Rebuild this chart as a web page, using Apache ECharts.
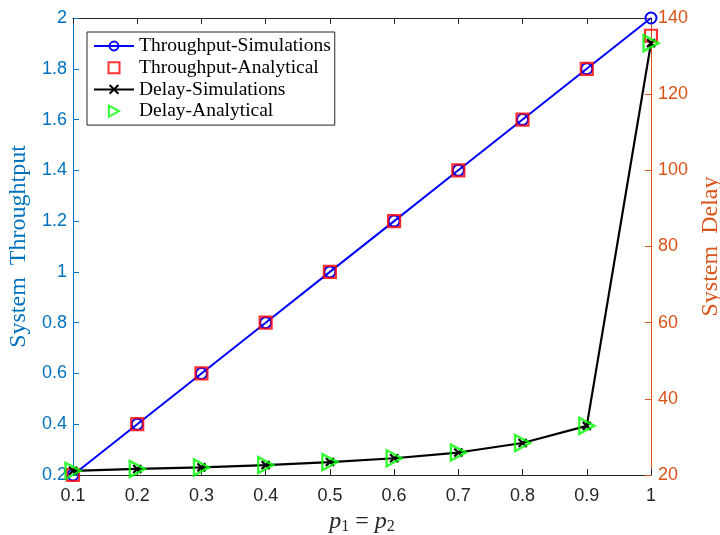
<!DOCTYPE html>
<html>
<head>
<meta charset="utf-8">
<script src="https://cdn.jsdelivr.net/npm/echarts@6/dist/echarts.min.js"></script>
<style>
  html, body { margin: 0; padding: 0; background: #fff; }
  #chart { width: 720px; height: 535px; }
</style>
</head>
<body>
<div id="chart"></div>
<script>
// Access probability p1 = p2
const pValues = [0.1, 0.2, 0.3, 0.4, 0.5, 0.6, 0.7, 0.8, 0.9, 1.0];

// System throughput
const throughputSim = [0.2, 0.4, 0.6, 0.8, 1.0, 1.2, 1.4, 1.6, 1.8, 2.0];
const throughputAna = [0.2, 0.4, 0.6, 0.8, 1.0, 1.2, 1.4, 1.6, 1.8, 1.93];

// System delay
const delaySim = [21.1, 21.6, 22.0, 22.6, 23.4, 24.4, 25.9, 28.4, 32.9, 133.4];
const delayAna = [21.1, 21.6, 22.0, 22.6, 23.4, 24.4, 25.9, 28.4, 32.9, 133.4];

const seriesNames = ['Throughput-Simulations', 'Throughput-Analytical', 'Delay-Simulations', 'Delay-Analytical'];

const pair = (xs, ys) => xs.map((x, i) => [x, ys[i]]);

const LEFT_COLOR = '#0072BD';
const RIGHT_COLOR = '#D95319';
const FRAME = '#262626';
const TICK_FONT = 'Liberation Sans, Arial, sans-serif';
const SERIF = 'Liberation Serif, DejaVu Serif, serif';

// marker shapes
const crossPath = 'path://M0,0L10,10M10,0L0,10';
const squarePath = 'path://M0,0L10,0L10,10L0,10Z';
const triRightPath = 'path://M0,0L14,7.5L0,15Z';

const chart = echarts.init(document.getElementById('chart'), null, { renderer: 'canvas' });

chart.setOption({
  animation: false,
  backgroundColor: '#fff',
  grid: { left: 73, right: 69, top: 18, bottom: 60, containLabel: false, outerBoundsMode: 'none' },
  legend: {
    data: [
      { name: seriesNames[0] },
      { name: seriesNames[1], icon: squarePath },
      { name: seriesNames[2] },
      { name: seriesNames[3], icon: triRightPath }
    ],
    orient: 'vertical',
    left: 87,
    top: 32,
    padding: [4, 4, 4, 6],
    itemWidth: 40,
    itemHeight: 11,
    itemGap: 1.7,
    symbolKeepAspect: true,
    backgroundColor: '#fff',
    borderColor: FRAME,
    borderWidth: 1,
    textStyle: { fontFamily: SERIF, fontSize: 19.5, lineHeight: 20, color: '#000' }
  },
  xAxis: [
    {
      type: 'value',
      min: 0.1, max: 1, interval: 0.1,
      position: 'bottom',
      name: '{i|p}{s|1}{n| = }{i|p}{s|2}',
      nameLocation: 'middle',
      nameGap: 33,
      nameTextStyle: {
        rich: {
          i: { fontFamily: SERIF, fontStyle: 'italic', fontSize: 24, color: '#262626' },
          s: { fontFamily: SERIF, fontSize: 16, color: '#262626', verticalAlign: 'bottom', padding: [10, 0, 0, 0] },
          n: { fontFamily: SERIF, fontSize: 24, color: '#262626' }
        }
      },
      axisLine: { show: true, onZero: false, lineStyle: { color: FRAME, width: 1 } },
      axisTick: { show: true, inside: true, length: 6, lineStyle: { color: FRAME } },
      axisLabel: {
        fontFamily: TICK_FONT, fontSize: 18, color: '#262626', margin: 12,
        formatter: v => String(+v.toFixed(1))
      },
      splitLine: { show: false }
    },
    {
      type: 'value',
      min: 0.1, max: 1, interval: 0.1,
      position: 'top',
      axisLine: { show: true, onZero: false, lineStyle: { color: FRAME, width: 1 } },
      axisTick: { show: true, inside: true, length: 6, lineStyle: { color: FRAME } },
      axisLabel: { show: false },
      splitLine: { show: false }
    }
  ],
  yAxis: [
    {
      type: 'value',
      min: 0.2, max: 2, interval: 0.2,
      position: 'left',
      name: 'System  Throughtput',
      nameLocation: 'middle',
      nameGap: 42,
      nameTextStyle: { fontFamily: SERIF, fontSize: 24, color: LEFT_COLOR },
      axisLine: { show: true, onZero: false, lineStyle: { color: LEFT_COLOR, width: 1 } },
      axisTick: { show: true, inside: true, length: 6, lineStyle: { color: LEFT_COLOR } },
      axisLabel: {
        fontFamily: TICK_FONT, fontSize: 18, color: LEFT_COLOR, margin: 6,
        formatter: v => String(+v.toFixed(1))
      },
      splitLine: { show: false }
    },
    {
      type: 'value',
      min: 20, max: 140, interval: 20,
      position: 'right',
      name: 'System  Delay',
      nameLocation: 'middle',
      nameGap: 43,
      nameTextStyle: { fontFamily: SERIF, fontSize: 24, color: RIGHT_COLOR },
      axisLine: { show: true, onZero: false, lineStyle: { color: RIGHT_COLOR, width: 1 } },
      axisTick: { show: true, inside: true, length: 6, lineStyle: { color: RIGHT_COLOR } },
      axisLabel: { fontFamily: TICK_FONT, fontSize: 18, color: RIGHT_COLOR, margin: 7 },
      splitLine: { show: false }
    }
  ],
  series: [
    {
      name: seriesNames[0],
      type: 'line',
      xAxisIndex: 0, yAxisIndex: 0,
      data: pair(pValues, throughputSim),
      symbol: 'circle',
      symbolSize: 11,
      showAllSymbol: true,
      lineStyle: { color: '#0000FF', width: 2 },
      itemStyle: { color: 'rgba(0,0,0,0)', borderColor: '#0000FF', borderWidth: 2 },
      z: 2
    },
    {
      name: seriesNames[1],
      type: 'scatter',
      xAxisIndex: 0, yAxisIndex: 0,
      data: pair(pValues, throughputAna),
      symbol: squarePath,
      symbolSize: 12,
      itemStyle: { color: 'rgba(0,0,0,0)', borderColor: '#FF0000', borderWidth: 2.2 },
      z: 3
    },
    {
      name: seriesNames[2],
      type: 'line',
      xAxisIndex: 0, yAxisIndex: 1,
      data: pair(pValues, delaySim),
      symbol: crossPath,
      symbolSize: 8,
      showAllSymbol: true,
      lineStyle: { color: '#000000', width: 2.2 },
      itemStyle: { color: 'rgba(0,0,0,0)', borderColor: '#000000', borderWidth: 2.2 },
      z: 4
    },
    {
      name: seriesNames[3],
      type: 'scatter',
      xAxisIndex: 0, yAxisIndex: 1,
      data: pair(pValues, delayAna),
      symbol: triRightPath,
      symbolSize: [15, 16],
      itemStyle: { color: 'rgba(0,0,0,0)', borderColor: '#00FF00', borderWidth: 2.4 },
      z: 5
    }
  ]
});
</script>
</body>
</html>
